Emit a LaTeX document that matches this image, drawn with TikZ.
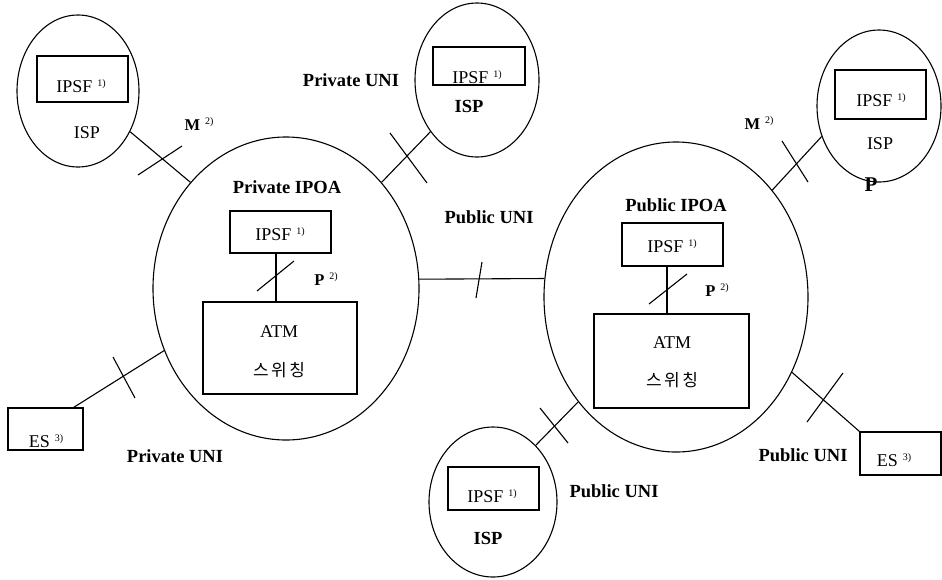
\documentclass[tikz,border=0pt]{standalone}
\usepackage{fontspec}
\setmainfont{Liberation Serif}
\newfontfamily\krfont{Noto Sans CJK KR}
\usetikzlibrary{shapes.geometric}
\newcommand\fnmark[1]{\hspace{5pt}\raisebox{5.5pt}{\fontsize{10}{10}\selectfont\mdseries #1}}
\begin{document}
\begin{tikzpicture}[x=1pt,y=-1pt,line width=1.1pt,
  oval/.style={draw,ellipse,inner sep=0pt},
  sq/.style={draw,rectangle,inner sep=0pt},
  rt/.style={anchor=base,inner sep=0pt,font=\fontsize{18}{21}\selectfont},
  bt/.style={anchor=base,inner sep=0pt,font=\fontsize{18.5}{21}\selectfont\bfseries},
  kt/.style={anchor=base,inner sep=0pt,font=\fontsize{17}{20}\selectfont\krfont},
  tick/.style={line width=1.1pt}]
\useasboundingbox (0,0) rectangle (942,579);

% big clouds
\node[oval,minimum width=266pt,minimum height=303pt] (priv) at (286,288.5) {};
\node[oval,minimum width=264pt,minimum height=310pt] (pub) at (676,297) {};
% ISP ellipses
\node[oval,minimum width=122pt,minimum height=152pt] (ispA) at (78,91) {};
\node[oval,minimum width=124pt,minimum height=154pt] (ispB) at (477,80) {};
\node[oval,minimum width=124pt,minimum height=152pt] (ispC) at (879,106) {};
\node[oval,minimum width=128pt,minimum height=150pt] (ispD) at (493,502) {};

% boxes
\node[sq,minimum width=91pt,minimum height=46pt] (ipsfA) at (82.5,79) {};
\node[sq,minimum width=92pt,minimum height=38pt] (ipsfB) at (479,66) {};
\node[sq,minimum width=91pt,minimum height=49pt] (ipsfC) at (880.5,94.5) {};
\node[sq,minimum width=91pt,minimum height=43pt] (ipsfD) at (493.5,488.5) {};
\node[sq,minimum width=101pt,minimum height=42pt] (ipsfPriv) at (280.5,232) {};
\node[sq,minimum width=101pt,minimum height=43pt] (ipsfPub) at (672.5,244.5) {};
\node[sq,minimum width=154pt,minimum height=92pt] (atmPriv) at (280,348) {};
\node[sq,minimum width=155pt,minimum height=94pt] (atmPub) at (671.5,361) {};
\node[sq,minimum width=75pt,minimum height=42pt] (esL) at (45.5,429) {};
\node[sq,minimum width=81pt,minimum height=43pt] (esR) at (900.5,453.5) {};

% texts
\node[rt] (tA) at (81,92) {IPSF\fnmark{1)}};
\node[rt] (sA) at (87,138) {ISP};
\node[rt] (tB) at (477,83) {IPSF\fnmark{1)}};
\node[bt] (sB) at (469,112) {ISP};
\node[rt] (tC) at (881,106) {IPSF\fnmark{1)}};
\node[rt] (sC) at (880,149) {ISP};
\node[anchor=base,inner sep=0pt,font=\fontsize{21}{24}\selectfont\bfseries] (pC) at (871,191) {P};
\node[rt] (tD) at (492,502) {IPSF\fnmark{1)}};
\node[bt] (sD) at (488,544) {ISP};
\node[rt] (tPriv) at (280,240) {IPSF\fnmark{1)}};
\node[rt] (tPub) at (672,252) {IPSF\fnmark{1)}};
\node[rt] (aPriv) at (279,337) {ATM};
\node[kt] (kPriv) at (279,376) {스\hspace{2.5pt}위\hspace{2.5pt}칭};
\node[rt] (aPub) at (672,348) {ATM};
\node[kt] (kPub) at (672,386) {스\hspace{2.5pt}위\hspace{2.5pt}칭};
\node[rt] (eL) at (46,447) {ES\fnmark{3)}};
\node[rt] (eR) at (894,466) {ES\fnmark{3)}};

\node[bt] (lPrivIPOA) at (287,193) {Private IPOA};
\node[bt] (lPubIPOA) at (676,211) {Public IPOA};
\node[bt] (lPrivUNI1) at (351,86) {Private UNI};
\node[bt] (lPrivUNI2) at (175,462) {Private UNI};
\node[bt] (lPubUNI1) at (489,223) {Public UNI};
\node[bt] (lPubUNI2) at (614,497) {Public UNI};
\node[bt] (lPubUNI3) at (803,461) {Public UNI};
\node[anchor=base,inner sep=0pt,font=\fontsize{16.5}{19}\selectfont\bfseries] (mA) at (199,130) {M\fnmark{2)}};
\node[anchor=base,inner sep=0pt,font=\fontsize{16.5}{19}\selectfont\bfseries] (mC) at (759,129) {M\fnmark{2)}};
\node[anchor=base,inner sep=0pt,font=\fontsize{16.5}{19}\selectfont\bfseries] (pPriv) at (326,285) {P\fnmark{2)}};
\node[anchor=base,inner sep=0pt,font=\fontsize{16.5}{19}\selectfont\bfseries] (pPub) at (717,296) {P\fnmark{2)}};

% connectors
\draw (ispA.-38) -- (priv.132.8);
\draw (ispB.-132.8) -- (priv.48.6);
\draw (ispC.208.7) -- (pub.48.4);
\draw (priv.4.1) -- (pub.172.2);
\draw (ispD.53.3) -- (pub.227.5);
\draw ([xshift=-10pt]esL.north east) -- (priv.207.3);
\draw (esR.north west) -- (pub.-33.5);
\draw ([xshift=-4.5pt]ipsfPriv.south) -- ([xshift=-4.5pt]ipsfPriv.south |- atmPriv.north);
\draw ([xshift=-5.5pt]ipsfPub.south) -- ([xshift=-5.5pt]ipsfPub.south |- atmPub.north);

% interface ticks
\coordinate (k1a) at (138,175); \coordinate (k1b) at (182,146);
\coordinate (k2a) at (390,133); \coordinate (k2b) at (427,183);
\coordinate (k3a) at (782,141); \coordinate (k3b) at (808,182);
\coordinate (k4a) at (476,298); \coordinate (k4b) at (482,262);
\coordinate (k5a) at (113,357); \coordinate (k5b) at (135,398);
\coordinate (k6a) at (540,408); \coordinate (k6b) at (568,443);
\coordinate (k7a) at (807,422); \coordinate (k7b) at (843,373);
\coordinate (k8a) at (257,291); \coordinate (k8b) at (294,261);
\coordinate (k9a) at (649,304); \coordinate (k9b) at (687,274);
\foreach \i in {1,...,9} \draw[tick] (k\i a) -- (k\i b);
\end{tikzpicture}
\end{document}
